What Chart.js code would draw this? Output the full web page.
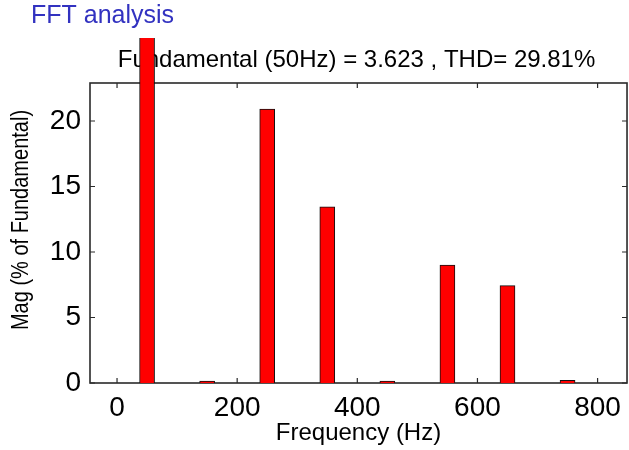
<!DOCTYPE html>
<html>
<head>
<meta charset="utf-8">
<script src="https://cdn.jsdelivr.net/npm/chart.js@4.4.1/dist/chart.umd.min.js"></script>
<style>
  html, body { margin: 0; padding: 0; background: #fff; }
</style>
</head>
<body>
<canvas id="fft" width="629" height="450"></canvas>
<script>
// Espectro armónico (% de la fundamental)
const frecuencias = [50, 150, 250, 350, 450, 550, 650, 750];
const magnitudes = [100, 0.15, 20.9, 13.45, 0.15, 9.0, 7.43, 0.2];
const ticksX = [0, 200, 400, 600, 800];
const ticksY = [0, 5, 10, 15, 20];

const tituloVentana = 'FFT analysis';
const tituloGrafico = 'Fundamental (50Hz) = 3.623 , THD= 29.81%';
const etiquetaX = 'Frequency (Hz)';
const etiquetaY = 'Mag (% of Fundamental)';

const FUENTE = "'Liberation Sans', Arial, sans-serif";

// Marco tipo MATLAB con marcas hacia adentro + títulos
const marcoPlugin = {
  id: 'marco',
  beforeDatasetsDraw(chart) {
    const { ctx, chartArea: a, scales } = chart;
    ctx.save();
    // títulos
    ctx.fillStyle = '#3232c0';
    ctx.font = '25px ' + FUENTE;
    ctx.textAlign = 'left';
    ctx.textBaseline = 'middle';
    ctx.fillText(tituloVentana, 31, 16);
    ctx.fillStyle = '#000';
    ctx.font = '24px ' + FUENTE;
    ctx.textAlign = 'center';
    ctx.fillText(tituloGrafico, (a.left + a.right) / 2 - 2, 60);

    // etiqueta del eje y (un poco por encima del centro del área, letra ensanchada)
    ctx.save();
    ctx.translate(22, 220);
    ctx.rotate(-Math.PI / 2);
    ctx.scale(1, 1.16);
    ctx.font = '20px ' + FUENTE;
    ctx.fillText(etiquetaY, 0, 0);
    ctx.restore();

    // caja
    ctx.strokeStyle = '#2a2a2a';
    ctx.lineWidth = 1.6;
    ctx.strokeRect(a.left, a.top, a.right - a.left, a.bottom - a.top);
    // marcas
    const largo = 5;
    ctx.lineWidth = 1.2;
    ctx.beginPath();
    scales.x.ticks.forEach(t => {
      const px = scales.x.getPixelForValue(t.value);
      ctx.moveTo(px, a.bottom); ctx.lineTo(px, a.bottom - largo);
      ctx.moveTo(px, a.top); ctx.lineTo(px, a.top + largo);
    });
    scales.y.ticks.forEach(t => {
      const py = scales.y.getPixelForValue(t.value);
      ctx.moveTo(a.left, py); ctx.lineTo(a.left + largo, py);
      ctx.moveTo(a.right, py); ctx.lineTo(a.right - largo, py);
    });
    ctx.stroke();
    ctx.restore();
  }
};

new Chart(document.getElementById('fft').getContext('2d'), {
  type: 'bar',
  data: {
    datasets: [{
      data: frecuencias.map((f, i) => ({ x: f, y: magnitudes[i] })),
      backgroundColor: '#ff0000',
      borderColor: '#111',
      borderWidth: 1,
      barThickness: 15,
      // la fundamental sobresale del área de ejes
      clip: { left: false, top: 45, right: false, bottom: 0 }
    }]
  },
  options: {
    responsive: false,
    animation: false,
    devicePixelRatio: 1,
    layout: { padding: { top: 83, right: 1, left: 0, bottom: 0 } },
    plugins: {
      legend: { display: false },
      tooltip: { enabled: false }
    },
    scales: {
      x: {
        type: 'linear',
        offset: false,
        min: -45,
        max: 849,
        afterBuildTicks: s => { s.ticks = ticksX.map(v => ({ value: v })); },
        afterFit: s => { s.height = 67; },
        grid: { display: false, drawTicks: false },
        border: { display: false },
        ticks: { color: '#000', font: { family: FUENTE, size: 28 }, padding: 8, maxRotation: 0 },
        title: {
          display: true, text: etiquetaX, color: '#000',
          font: { family: FUENTE, size: 24 }, padding: { top: 0, bottom: 2 }
        }
      },
      y: {
        min: 0,
        max: 22.9,
        afterBuildTicks: s => { s.ticks = ticksY.map(v => ({ value: v })); },
        afterFit: s => { s.width = 90; },
        grid: { display: false, drawTicks: false },
        border: { display: false },
        ticks: { color: '#000', font: { family: FUENTE, size: 28 }, padding: 9 },
        title: { display: false }
      }
    }
  },
  plugins: [marcoPlugin]
});
</script>
</body>
</html>
